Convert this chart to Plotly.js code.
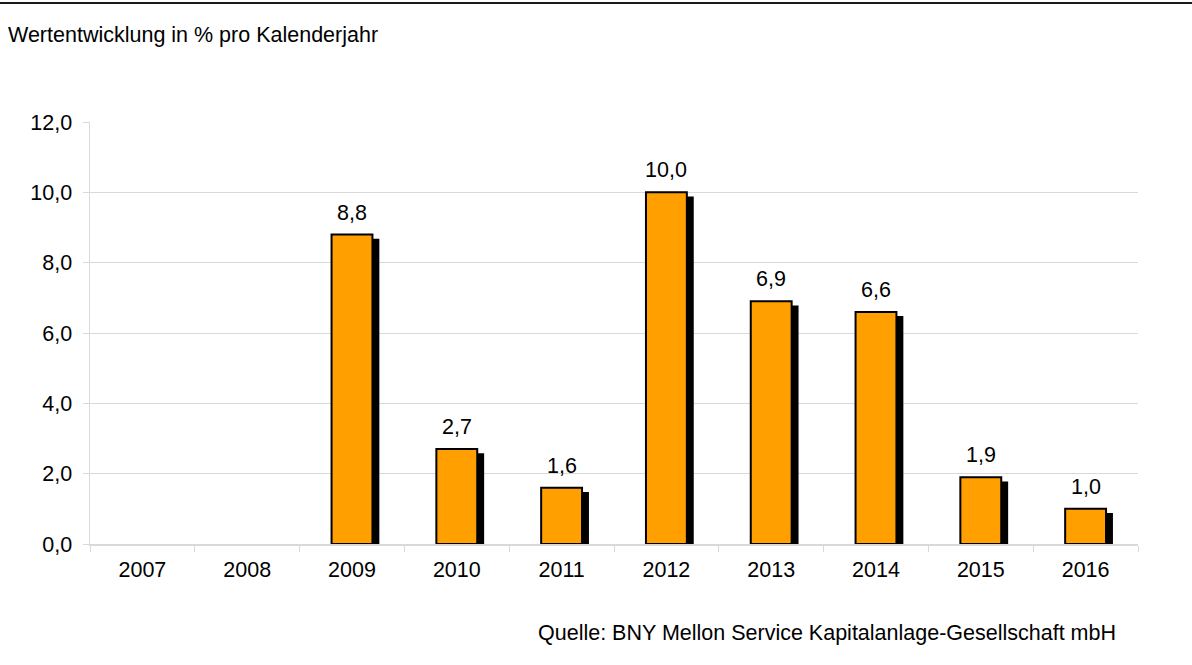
<!DOCTYPE html>
<html>
<head>
<meta charset="utf-8">
<script src="https://cdn.plot.ly/plotly-3.0.1.min.js"></script>
<style>
html,body{margin:0;padding:0;background:#fff;}
#chart{width:1192px;height:665px;}
</style>
</head>
<body>
<div id="chart"></div>
<script>
const years = ['2007','2008','2009','2010','2011','2012','2013','2014','2015','2016'];
const values = [null, null, 8.8, 2.7, 1.6, 10.0, 6.9, 6.6, 1.9, 1.0];
const yTicks = [0, 2, 4, 6, 8, 10, 12];
const titleText = 'Wertentwicklung in % pro Kalenderjahr';
const sourceText = 'Quelle: BNY Mellon Service Kapitalanlage-Gesellschaft mbH';

const FONT = 'Liberation Sans, Arial, sans-serif';
const FS = 21.5;
const barW = 0.39;
const shadowDx = 0.066;   // category units
const shadowDy = 0.12;    // value units

const fmt = v => v.toFixed(1).replace('.', ',');

const shadow = {
  type: 'bar',
  x: years,
  y: values.map(v => v == null ? null : v - shadowDy),
  width: barW,
  offset: -barW / 2 + shadowDx,
  marker: {color: '#000000', line: {width: 0}},
  hoverinfo: 'skip',
  showlegend: false
};
const bars = {
  type: 'bar',
  x: years,
  y: values,
  width: barW,
  offset: -barW / 2,
  marker: {color: '#FFA000', line: {color: '#000000', width: 2}},
  showlegend: false
};

const annotations = [];
years.forEach((yr, i) => {
  if (values[i] == null) return;
  annotations.push({
    x: i, y: values[i], xref: 'x', yref: 'y',
    text: fmt(values[i]), showarrow: false,
    yanchor: 'middle', yshift: 22,
    font: {family: FONT, size: FS, color: '#000'}
  });
});
annotations.push({
  xref: 'paper', yref: 'paper', x: (1118 - 90) / 1048, y: (544 - 633) / 422,
  xanchor: 'right', yanchor: 'middle', showarrow: false,
  text: sourceText, font: {family: FONT, size: FS, color: '#000'}
});

const layout = {
  width: 1192, height: 665,
  margin: {l: 90, r: 54, t: 122, b: 121},
  paper_bgcolor: '#fff', plot_bgcolor: '#fff',
  separators: ',.',
  barmode: 'overlay',
  title: {
    text: titleText, xref: 'container', yref: 'container',
    x: 8 / 1192, xanchor: 'left', y: 1 - 34 / 665, yanchor: 'middle',
    font: {family: FONT, size: FS, color: '#000'}
  },
  font: {family: FONT, size: FS, color: '#000'},
  xaxis: {
    type: 'category',
    categoryorder: 'array', categoryarray: years,
    range: [-0.5, years.length - 0.5],
    tickson: 'boundaries',
    ticks: 'outside', ticklen: 6, tickcolor: '#d9d9d9', tickwidth: 1,
    showline: true, linecolor: '#d9d9d9', linewidth: 1.5,
    showgrid: false, zeroline: false,
    tickangle: 0,
    ticklabelstandoff: 6,
    tickfont: {family: FONT, size: FS, color: '#000'},
    fixedrange: true
  },
  yaxis: {
    range: [0, 12],
    tickvals: yTicks,
    tickformat: '.1f',
    ticks: 'outside', ticklen: 6, tickcolor: '#d9d9d9', tickwidth: 1,
    showline: true, linecolor: '#d9d9d9', linewidth: 1.5,
    showgrid: true, gridcolor: '#d9d9d9', gridwidth: 1,
    zeroline: false,
    ticklabelstandoff: 6,
    tickfont: {family: FONT, size: FS, color: '#000'},
    fixedrange: true
  },
  shapes: [{
    type: 'line', xref: 'paper', yref: 'paper',
    x0: -90 / 1048, x1: (1192 - 90) / 1048,
    y0: (544 - 3) / 422, y1: (544 - 3) / 422,
    line: {color: '#1a1a1a', width: 2}
  }],
  annotations: annotations
};

Plotly.newPlot('chart', [shadow, bars], layout, {displayModeBar: false, staticPlot: true});
</script>
</body>
</html>
